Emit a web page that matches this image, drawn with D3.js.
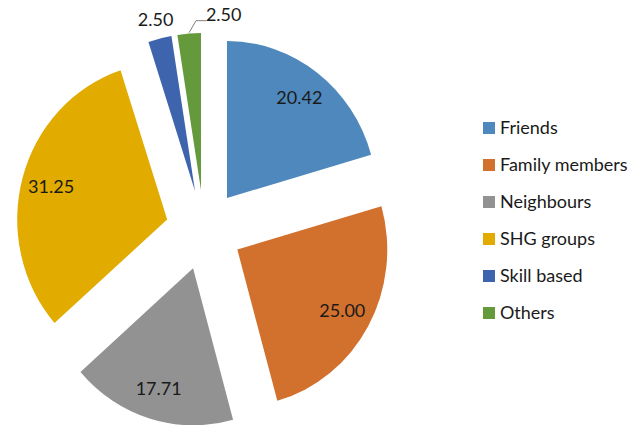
<!DOCTYPE html>
<html>
<head>
<meta charset="utf-8">
<script src="https://cdn.jsdelivr.net/npm/d3@7"></script>
<style>
  body { margin: 0; background: #fff; }
  svg { display: block; font-family: Lato, "Open Sans", sans-serif; }
</style>
</head>
<body>
<div id="chart"></div>
<script>
    // Data
    const categories = ["Friends", "Family members", "Neighbours", "SHG groups", "Skill based", "Others"];
    const values = [20.42, 25.00, 17.71, 31.25, 2.50, 2.50];
    const colors = ["#4f88bc", "#d2702d", "#929292", "#e1ab00", "#3d64ad", "#64993c"];

    const width = 633;
    const height = 425;

    // Pie geometry (picture is slightly squeezed horizontally)
    const cx = 204, cy = 230;
    const radius = 157;
    const sx = 0.955;
    const explode = 40;
    const labelR = 126;
    const outsideR = 176;

    const svg = d3.select("#chart")
        .append("svg")
        .attr("width", width)
        .attr("height", height);

    const pie = d3.pie().sort(null).value(d => d.value);
    const arcs = pie(categories.map((c, i) => ({ name: c, value: values[i], color: colors[i] })));

    const arc = d3.arc().innerRadius(0).outerRadius(radius);

    // Position helper: point at distance r from the exploded apex along mid angle
    function apex(a) {
        const mid = (a.startAngle + a.endAngle) / 2;
        return [cx + sx * explode * Math.sin(mid), cy - explode * Math.cos(mid)];
    }
    function along(a, r) {
        const mid = (a.startAngle + a.endAngle) / 2;
        const p = apex(a);
        return [p[0] + sx * r * Math.sin(mid), p[1] - r * Math.cos(mid)];
    }

    // Slices
    svg.append("g")
        .selectAll("path")
        .data(arcs)
        .join("path")
        .attr("transform", d => {
            const p = apex(d);
            return `translate(${p[0]},${p[1]}) scale(${sx},1)`;
        })
        .attr("d", arc)
        .attr("fill", d => d.data.color);

    // Data labels
    const labels = svg.append("g")
        .attr("font-size", 18)
        .attr("fill", "#1a1a1a")
        .attr("text-anchor", "middle");

    arcs.forEach((d, i) => {
        const small = d.data.value < 5;
        let p = along(d, small ? outsideR : labelR);
        if (i === 5) {
            // Others label is pushed to the right, with a leader line
            const q = along(d, radius + 1);
            const lx = p[0] + 36;
            svg.append("polyline")
                .attr("points", `${q[0]},${q[1]} ${q[0] + 7},${p[1] + 6} ${lx - 17},${p[1] + 6}`)
                .attr("fill", "none")
                .attr("stroke", "#7f7f7f")
                .attr("stroke-width", 1);
            p = [lx, p[1]];
        }
        labels.append("text")
            .attr("x", p[0])
            .attr("y", p[1])
            .attr("dy", "0.35em")
            .text(d3.format(".2f")(d.data.value));
    });

    // Legend
    const legend = svg.append("g")
        .attr("transform", "translate(483,128)");

    const rows = legend.selectAll("g")
        .data(categories)
        .join("g")
        .attr("transform", (d, i) => `translate(0, ${i * 37})`);

    rows.append("rect")
        .attr("x", 0)
        .attr("y", -6)
        .attr("width", 12)
        .attr("height", 12)
        .attr("fill", (d, i) => colors[i]);

    rows.append("text")
        .attr("x", 17)
        .attr("y", 0)
        .attr("dy", "0.35em")
        .attr("font-size", 18)
        .attr("fill", "#1a1a1a")
        .text(d => d);
</script>
</body>
</html>
